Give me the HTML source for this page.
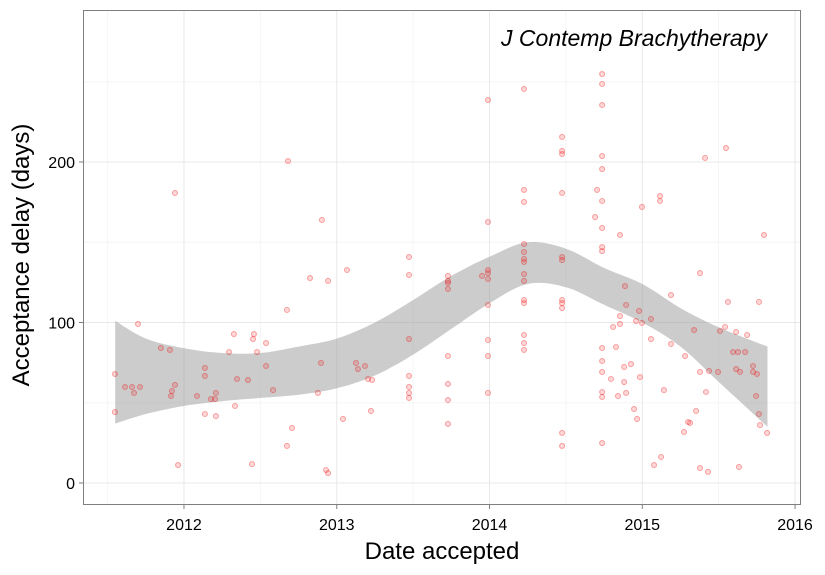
<!DOCTYPE html>
<html><head><meta charset="utf-8"><style>
body{margin:0;background:#fff}
svg text{font-family:"Liberation Sans",sans-serif}
</style></head><body>
<svg id="c" width="825" height="570"></svg>
<script>
const years=[2011.548,2011.548,2011.614,2011.660,2011.673,2011.712,2011.699,2011.849,2011.908,2011.941,2011.941,2011.921,2011.915,2011.961,2012.085,2012.137,2012.137,2012.177,2012.203,2012.209,2012.137,2012.209,2012.295,2012.327,2012.347,2012.334,2012.419,2012.445,2012.452,2012.458,2012.478,2012.537,2012.537,2012.583,2012.674,2012.681,2012.674,2012.707,2012.825,2012.877,2012.897,2012.903,2012.930,2012.943,2012.943,2013.041,2013.067,2013.126,2013.139,2013.185,2013.205,2013.231,2013.224,2013.473,2013.473,2013.473,2013.473,2013.473,2013.473,2013.473,
2013.728,2013.728,2013.728,2013.728,2013.728,2013.728,2013.728,2013.728,2013.951,
2013.990,2013.990,2013.990,2013.990,2013.990,2013.990,2013.990,2013.990,2013.990,
2014.226,2014.226,2014.226,2014.226,2014.226,2014.226,2014.226,2014.226,2014.226,2014.226,2014.226,2014.226,2014.226,2014.226,
2014.475,2014.475,2014.475,2014.475,2014.475,2014.475,2014.475,2014.475,2014.475,2014.475,2014.475,
2014.737,2014.737,2014.737,2014.737,2014.737,2014.737,2014.737,2014.737,2014.737,2014.737,2014.737,2014.737,2014.737,2014.737,2014.737,
2014.704,2014.691,2014.854,2014.887,2014.894,2014.854,2014.809,2014.854,2014.828,2014.881,2014.926,2014.795,2014.881,2014.985,2014.841,2014.894,2014.946,2014.966,2014.998,2014.979,2014.959,2014.998,2015.057,2015.057,2015.116,2015.116,2015.188,2015.188,2015.142,2015.077,2015.123,2015.280,2015.273,2015.300,2015.313,2015.352,2015.378,2015.378,2015.417,2015.437,2015.378,2015.430,2015.411,2015.548,2015.339,2015.496,2015.509,2015.542,2015.561,2015.614,2015.686,2015.594,2015.627,2015.673,2015.614,2015.640,2015.725,2015.725,2015.751,2015.745,2015.764,2015.764,2015.771,2015.797,2015.817,2015.633];
const delays=[67.9,44.2,59.8,59.8,56.1,59.8,99.1,84.1,82.9,180.7,61.1,57.3,54.2,11.2,54.2,71.7,66.7,52.3,52.3,56.1,43.0,41.7,81.6,92.8,64.8,48.0,64.2,11.8,89.7,92.8,81.6,87.2,72.9,57.9,107.8,200.6,23.1,34.3,127.7,56.1,74.8,163.9,8.1,6.2,125.9,39.9,132.7,74.8,71.0,72.9,64.8,64.2,44.9,140.8,129.6,89.7,66.7,59.8,56.1,53.0,
129.0,125.9,124.6,120.9,79.1,61.7,51.7,36.8,129.0,
238.6,162.6,132.7,130.8,127.1,110.9,89.1,79.1,56.1,
245.5,182.6,175.1,148.9,143.9,139.6,137.7,130.2,125.9,114.0,112.1,92.2,87.2,82.9,
215.6,206.9,205.0,180.7,140.8,138.9,114.0,112.1,109.0,31.2,23.1,
254.8,248.6,235.5,203.7,195.6,175.7,158.9,147.0,144.5,84.1,76.0,69.2,56.7,53.6,24.9,
182.6,165.7,154.5,122.7,110.9,104.0,97.2,99.1,84.7,72.3,74.1,64.8,62.9,66.0,54.2,56.1,46.1,39.9,172.0,107.2,100.9,99.7,102.2,89.7,178.8,175.7,117.1,86.6,57.9,11.2,16.2,79.1,31.8,38.0,37.4,44.9,130.8,69.2,56.7,69.8,9.3,6.9,202.5,208.7,95.3,69.2,94.7,97.2,112.8,94.1,92.2,81.6,81.6,81.6,71.0,69.2,72.9,69.2,67.9,54.2,112.8,43.0,36.1,154.5,31.2,10.0];
const bandYears=[2011.55,2011.75,2012.0,2012.25,2012.5,2012.75,2013.0,2013.25,2013.5,2013.75,2014.0,2014.25,2014.5,2014.75,2015.0,2015.25,2015.5,2015.82];
const bandUpper=[101,90,84,81,81,85,90,100,114,129,141,150,146,134,124,109,97,85];
const bandLower=[37,43,48,51,53,55,59,67,80,96,112,124,122,111,100,85,63,35];
const xTicks=[2012,2013,2014,2015,2016];
const yTicks=[0,100,200];

const L=83,R=801,T=10,B=505;
const x0=2011.339,x1=2016.039,y0=-13.7,y1=294.7;
const sx=v=>L+(v-x0)/(x1-x0)*(R-L);
const sy=v=>B-(v-y0)/(y1-y0)*(B-T);
const svg=document.getElementById('c');
const NS='http://www.w3.org/2000/svg';
function mk(t,a,p){const e=document.createElementNS(NS,t);for(const k in a)e.setAttribute(k,a[k]);(p||svg).appendChild(e);return e;}

const bg=mk('rect',{x:L,y:T,width:R-L,height:B-T,fill:'#fff'});


for(let i=-1;i<xTicks.length-1;i++){const g=mk('line',{x1:sx(xTicks[0]+i+0.5),x2:sx(xTicks[0]+i+0.5),y1:T,y2:B,stroke:'#f5f5f5','stroke-width':1});}
[50,150,250].forEach(v=>{const g=mk('line',{x1:L,x2:R,y1:sy(v),y2:sy(v),stroke:'#f5f5f5','stroke-width':1});});
xTicks.forEach(v=>{const g=mk('line',{x1:sx(v),x2:sx(v),y1:T,y2:B,stroke:'#e8e8e8','stroke-width':1});});
yTicks.forEach(v=>{const g=mk('line',{x1:L,x2:R,y1:sy(v),y2:sy(v),stroke:'#e8e8e8','stroke-width':1});});

// smooth ribbon via Catmull-Rom
function spline(xs,ys){const p=xs.map((v,i)=>[sx(v),sy(ys[i])]);const out=[];
for(let i=0;i<p.length-1;i++){const a=p[Math.max(0,i-1)],b=p[i],c=p[i+1],e=p[Math.min(p.length-1,i+2)];
for(let k=0;k<10;k++){const t=k/10,t2=t*t,t3=t2*t;
const f=(A,Bv,C,D)=>0.5*((2*Bv)+(-A+C)*t+(2*A-5*Bv+4*C-D)*t2+(-A+3*Bv-3*C+D)*t3);
out.push([f(a[0],b[0],c[0],e[0]),f(a[1],b[1],c[1],e[1])]);}}
out.push(p[p.length-1]);return out;}
const up=spline(bandYears,bandUpper),lo=spline(bandYears,bandLower).reverse();
const d=up.concat(lo).map((q,i)=>(i?'L':'M')+q[0].toFixed(1)+','+q[1].toFixed(1)).join('')+'Z';
const rib=mk('path',{d:d,fill:'#999','fill-opacity':0.5});



years.forEach((v,i)=>{const c=mk('circle',{cx:sx(v),cy:sy(delays[i]),r:2.5,fill:'rgba(255,0,0,0.15)',stroke:'rgba(235,0,0,0.32)','stroke-width':1.1});

});

const br=mk('rect',{x:L+0.5,y:T+0.5,width:R-L-1,height:B-T-1,fill:'none',stroke:'#7f7f7f','stroke-width':1});



xTicks.forEach(v=>{const t=mk('line',{x1:sx(v),x2:sx(v),y1:B,y2:B+4,stroke:'#7f7f7f'});
const l=mk('text',{x:sx(v),y:B+25,'text-anchor':'middle','font-size':16,fill:'#000'});l.textContent=v;});
yTicks.forEach(v=>{const t=mk('line',{x1:L-4,x2:L,y1:sy(v),y2:sy(v),stroke:'#7f7f7f'});
const l=mk('text',{x:L-8,y:sy(v)+6,'text-anchor':'end','font-size':16,fill:'#000'});l.textContent=v;});

const xt=mk('text',{x:442,y:559,'text-anchor':'middle','font-size':24});xt.textContent='Date accepted';


const yt=mk('text',{x:0,y:0,'text-anchor':'middle','font-size':24,transform:'translate(29,255) rotate(-90)'});yt.textContent='Acceptance delay (days)';


const an=mk('text',{x:634,y:46,'text-anchor':'middle','font-size':23,'font-style':'italic'});an.textContent='J Contemp Brachytherapy';


</script>
</body></html>
